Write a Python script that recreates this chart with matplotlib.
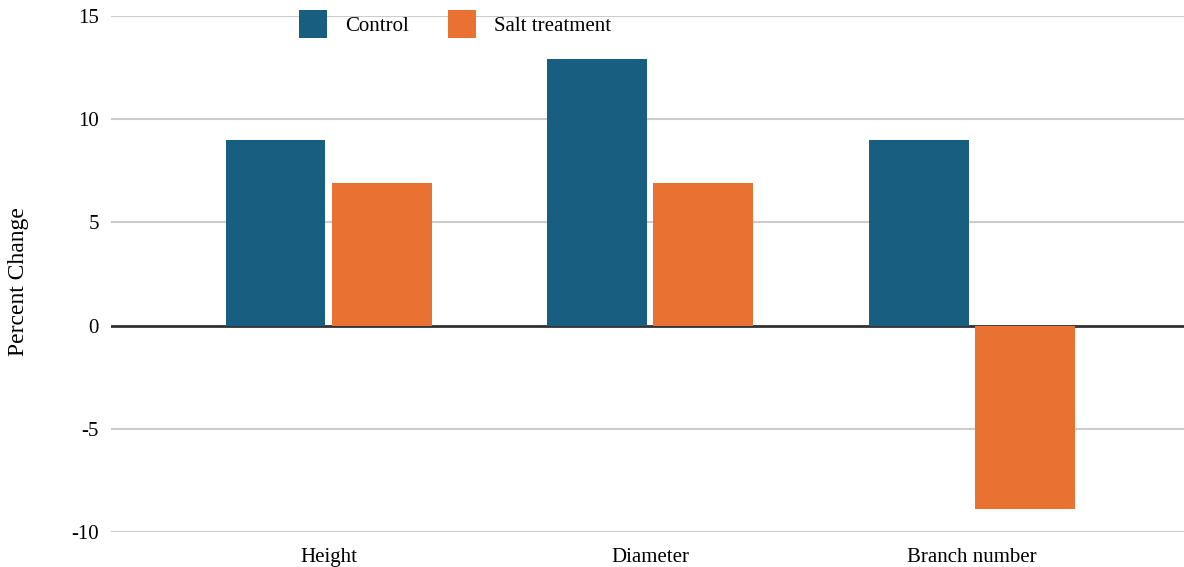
import matplotlib
matplotlib.use('Agg')
import matplotlib.pyplot as plt
import numpy as np

# Data
categories = ['Height', 'Diameter', 'Branch number']
control = [9.0, 12.9, 9.0]
salt = [6.9, 6.9, -8.9]
series_names = ['Control', 'Salt treatment']

plt.rcParams['font.family'] = ['Liberation Serif', 'DejaVu Serif']
plt.rcParams['axes.unicode_minus'] = False

fig = plt.figure(figsize=(11.84, 5.67), dpi=100)
ax = fig.add_axes([111 / 1184, 1 - 532 / 567, 1 - 111 / 1184, (532 - 16) / 567])

x = np.arange(len(categories))
bar_width = 0.31
offset = 0.165

ax.bar(x - offset, control, width=bar_width, color='#175e80', label=series_names[0], zorder=3)
ax.bar(x + offset, salt, width=bar_width, color='#e97132', label=series_names[1], zorder=3)

ax.set_ylim(-10, 15)
ax.set_xlim(-0.677, 2.66)
ax.set_yticks([-10, -5, 0, 5, 10, 15])
ax.set_xticks(x)
ax.set_xticklabels(categories, fontsize=15)
ax.tick_params(axis='y', labelsize=15, length=0, pad=8.6)
ax.tick_params(axis='x', length=0, pad=11.6)

# grid and zero line
ax.grid(axis='y', color='#cccccc', linewidth=1.5, zorder=0)
ax.axhline(0, color='#333333', linewidth=2, zorder=2)
for s in ax.spines.values():
    s.set_visible(False)

ax.set_ylabel('Percent Change', fontsize=17)
ax.yaxis.set_label_coords(-0.0765, 0.4845)

leg = ax.legend(loc='upper left', bbox_to_anchor=(0.1752, 1.012), ncol=2, frameon=False,
                fontsize=15, handlelength=1.35, handleheight=1.695, columnspacing=1.87,
                handletextpad=0.87, borderpad=0, borderaxespad=0)

fig.savefig('out.png', dpi=100)
